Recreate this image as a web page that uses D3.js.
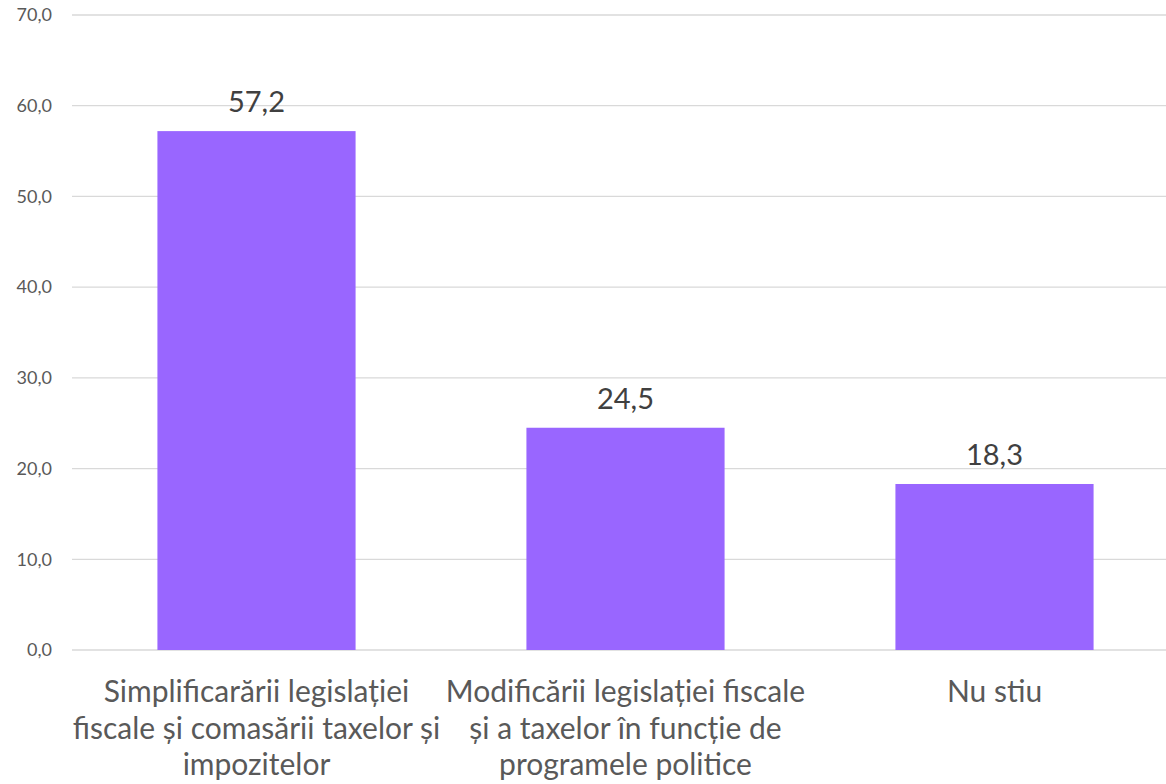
<!DOCTYPE html>
<html>
<head>
<meta charset="utf-8">
<script src="https://cdn.jsdelivr.net/npm/d3@7"></script>
<style>
  body { margin: 0; background: #fff; }
  svg { display: block; }
</style>
</head>
<body>
<svg id="chart" width="1166" height="784"></svg>
<script>
// data
const categories = [
  "Simplificarării legislației fiscale și comasării taxelor și impozitelor",
  "Modificării legislației fiscale și a taxelor în funcție de programele politice",
  "Nu stiu"
];
// how each category label breaks into lines
const categoryLines = [
  ["Simplificarării legislației", "fiscale și comasării taxelor și", "impozitelor"],
  ["Modificării legislației fiscale", "și a taxelor în funcție de", "programele politice"],
  ["Nu stiu"]
];
const values = [57.2, 24.5, 18.3];
const yTicks = [0, 10, 20, 30, 40, 50, 60, 70];

const svg = d3.select("#chart");
const fmt = v => d3.format(".1f")(v).replace(".", ",");

const x = d3.scaleBand()
  .domain(categories)
  .range([72, 1179])
  .paddingInner(0.463)
  .paddingOuter(0.2315);

const y = d3.scaleLinear()
  .domain([0, 70])
  .range([650, 15]);

// gridlines
svg.append("g")
  .selectAll("line")
  .data(yTicks)
  .join("line")
  .attr("x1", 72)
  .attr("x2", 1166)
  .attr("y1", d => y(d))
  .attr("y2", d => y(d))
  .attr("stroke", "#d9d9d9")
  .attr("stroke-width", 1.3);

// y tick labels
svg.append("g")
  .selectAll("text")
  .data(yTicks)
  .join("text")
  .attr("x", 52)
  .attr("y", d => y(d))
  .attr("dy", "0.35em")
  .attr("text-anchor", "end")
  .attr("font-family", "Lato, 'Open Sans', sans-serif")
  .attr("font-size", 18)
  .attr("fill", "#595959")
  .text(fmt);

// bars
svg.append("g")
  .selectAll("rect")
  .data(values)
  .join("rect")
  .attr("x", (d, i) => x(categories[i]))
  .attr("width", x.bandwidth())
  .attr("y", d => y(d))
  .attr("height", d => y(0) - y(d))
  .attr("fill", "#9966ff");

// value labels
svg.append("g")
  .selectAll("text")
  .data(values)
  .join("text")
  .attr("x", (d, i) => x(categories[i]) + x.bandwidth() / 2)
  .attr("y", d => y(d) - 19)
  .attr("text-anchor", "middle")
  .attr("font-family", "Lato, 'Open Sans', sans-serif")
  .attr("font-size", 29)
  .attr("fill", "#404040")
  .text(fmt);

// category labels
const cat = svg.append("g")
  .selectAll("text")
  .data(categories)
  .join("text")
  .attr("text-anchor", "middle")
  .attr("font-family", "Lato, 'Open Sans', sans-serif")
  .attr("font-size", 30)
  .attr("fill", "#595959");

cat.each(function(d, i) {
  const cx = x(d) + x.bandwidth() / 2;
  d3.select(this).selectAll("tspan")
    .data(categoryLines[i])
    .join("tspan")
    .attr("x", cx)
    .attr("y", (l, j) => 702 + j * 36.5)
    .text(l => l);
});
</script>
</body>
</html>
